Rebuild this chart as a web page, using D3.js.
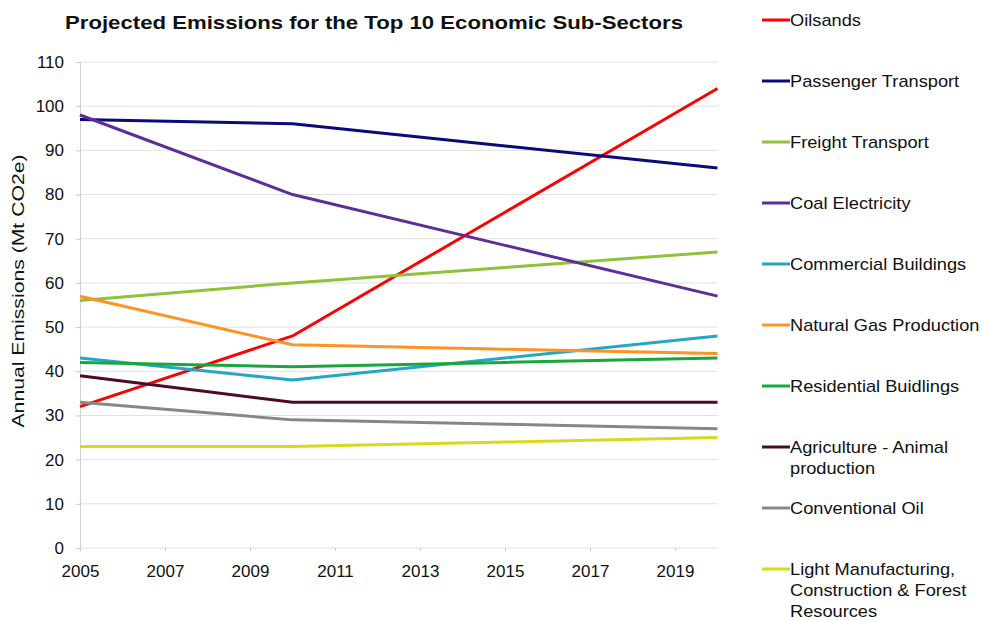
<!DOCTYPE html>
<html>
<head>
<meta charset="utf-8">
<script src="https://d3js.org/d3.v7.min.js"></script>
<style>
  body { margin: 0; background: #fff; }
  text { font-family: "Liberation Sans", Arial, sans-serif; fill: #111; }
</style>
</head>
<body>
<div id="chart"></div>
<script>
// years with key points in the projection
var years = [2005, 2010, 2015, 2020]
var tickYears = [2005, 2007, 2009, 2011, 2013, 2015, 2017, 2019]
var yTicks = [0, 10, 20, 30, 40, 50, 60, 70, 80, 90, 100, 110]

var sectors = ["Oilsands", "Passenger Transport", "Freight Transport", "Coal Electricity",
  "Commercial Buildings", "Natural Gas Production", "Residential Buidlings",
  "Agriculture - Animal production", "Conventional Oil",
  "Light Manufacturing, Construction & Forest Resources"]

var oilsands = [32, 48, 76, 104]
var passenger = [97, 96, 91, 86]
var freight = [56, 60, 63.5, 67]
var coal = [98, 80, 68.5, 57]
var commercial = [43, 38, 43, 48]
var naturalGas = [57, 46, 45, 44]
var residential = [42, 41, 42, 43]
var agriculture = [39, 33, 33, 33]
var conventionalOil = [33, 29, 28, 27]
var lightManufacturing = [23, 23, 24, 25]

var series = [oilsands, passenger, freight, coal, commercial, naturalGas,
  residential, agriculture, conventionalOil, lightManufacturing]
var colors = ["#ff0000", "#0a0a78", "#8fc23a", "#5e2d98", "#25a6c8", "#ff9224",
  "#17a83c", "#4d0a28", "#878787", "#d8d81c"]
// legend labels broken into lines
var legendLines = [["Oilsands"], ["Passenger Transport"], ["Freight Transport"], ["Coal Electricity"],
  ["Commercial Buildings"], ["Natural Gas Production"], ["Residential Buidlings"],
  ["Agriculture - Animal", "production"], ["Conventional Oil"],
  ["Light Manufacturing,", "Construction & Forest", "Resources"]]

var W = 982, H = 621
var svg = d3.select("#chart").append("svg")
  .attr("width", W)
  .attr("height", H)

var x = d3.scaleLinear().domain([2005, 2020]).range([80, 717.5])
var y = d3.scaleLinear().domain([0, 110]).range([548, 62])

// gridlines
svg.append("g")
  .selectAll("line")
  .data(yTicks)
  .enter()
  .append("line")
    .attr("x1", x(2005))
    .attr("x2", x(2020))
    .attr("y1", function(d) { return y(d) })
    .attr("y2", function(d) { return y(d) })
    .attr("stroke", "#e0e0e0")
    .attr("stroke-width", 1)

// y axis
var yAxis = svg.append("g")
  .attr("transform", "translate(" + x(2005) + ",0)")
  .call(d3.axisLeft(y).tickValues(yTicks).tickSize(4).tickPadding(12))
yAxis.select(".domain").attr("stroke", "#d0d0d0")
yAxis.selectAll(".tick line").attr("stroke", "#c8c8c8")
yAxis.selectAll("text").style("font-size", "17px").attr("fill", "#111")

// x axis
var xAxis = svg.append("g")
  .attr("transform", "translate(0," + y(0) + ")")
  .call(d3.axisBottom(x).tickValues(tickYears).tickFormat(d3.format("d")).tickSize(3).tickPadding(14))
xAxis.select(".domain").remove()
xAxis.selectAll(".tick line").attr("stroke", "#c8c8c8")
xAxis.selectAll("text").style("font-size", "17px").attr("fill", "#111")

// lines
var line = d3.line()
  .x(function(d, i) { return x(years[i]) })
  .y(function(d) { return y(d) })

svg.append("g")
  .selectAll("path")
  .data(series)
  .enter()
  .append("path")
    .attr("d", line)
    .attr("fill", "none")
    .attr("stroke", function(d, i) { return colors[i] })
    .attr("stroke-width", 3)
    .attr("stroke-linejoin", "round")

// title
svg.append("text")
  .attr("x", 374)
  .attr("y", 29)
  .attr("text-anchor", "middle")
  .attr("textLength", 618)
  .attr("lengthAdjust", "spacingAndGlyphs")
  .style("font-size", "19px")
  .style("font-weight", "bold")
  .text("Projected Emissions for the Top 10 Economic Sub-Sectors")

// y axis label
svg.append("text")
  .attr("transform", "translate(24," + 291 + ") rotate(-90)")
  .attr("text-anchor", "middle")
  .attr("textLength", 273)
  .attr("lengthAdjust", "spacingAndGlyphs")
  .style("font-size", "17px")
  .text("Annual Emissions (Mt CO2e)")

// legend
var legend = svg.append("g")
  .selectAll("g")
  .data(legendLines)
  .enter()
  .append("g")
    .attr("transform", function(d, i) { return "translate(762," + (20 + i * 61) + ")" })

legend.append("line")
  .attr("x1", 0)
  .attr("x2", 28)
  .attr("stroke", function(d, i) { return colors[i] })
  .attr("stroke-width", 3)

legend.append("g")
  .attr("transform", "translate(28,0) scale(1.14,1)")
  .selectAll("text")
  .data(function(d) { return d })
  .enter()
  .append("text")
    .attr("x", 0)
    .attr("y", function(d, j) { return 6 + j * 21 })
    .style("font-size", "16px")
    .text(function(d) { return d })
</script>
</body>
</html>
